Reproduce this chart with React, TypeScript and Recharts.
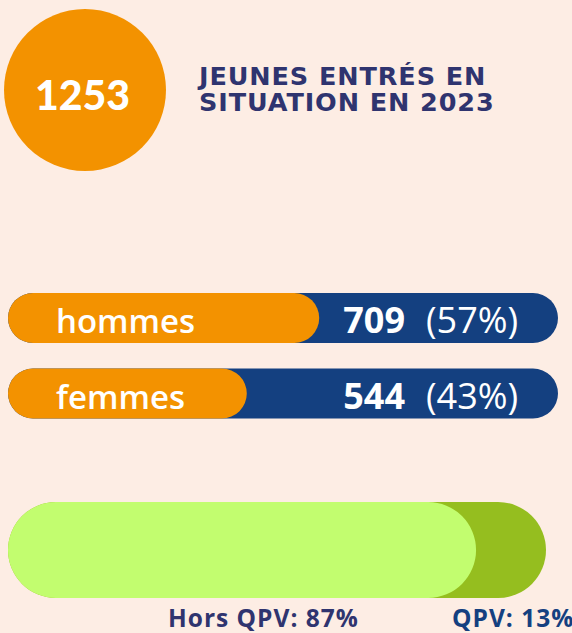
import { BarChart, Bar, XAxis, YAxis, LabelList } from 'recharts';

const genres = ['hommes', 'femmes'];
const effectifs = [709, 544];
const pourcentages = [57, 43];
const TOTAL = 1253;

const zones = ['Hors QPV', 'QPV'];
const partsQpv = [87, 13];

const titre = ['JEUNES ENTRÉS EN', 'SITUATION EN 2023'];

const BG = '#fdede4';
const ORANGE = '#f39200';
const NAVY = '#144080';
const INK = '#2f346f';

const genreData = genres.map((g, i) => ({
  name: g,
  value: effectifs[i],
  pct: pourcentages[i],
  total: TOTAL,
}));

const qpvData = [{ name: 'QPV', hors: partsQpv[0], total: partsQpv[0] + partsQpv[1] }];

function GenreLabel(props: any) {
  const { x, y, height, index } = props;
  const row = genreData[index];
  const cy = y + height / 2;
  const end = 558;
  return (
    <g style={{ fontFamily: '"Open Sans", sans-serif' }}>
      <text x={x + 48} y={cy} dy={15} fill="#fff" fontSize={33} fontWeight={600}>
        {row.name}
      </text>
      <text x={end - 153} y={cy} dy={15} fill="#fff" textAnchor="end" fontSize={36} fontWeight={700}>
        {row.value}
      </text>
      <text x={end - 132} y={cy} dy={15} fill="#fff" textAnchor="start" fontSize={36} fontWeight={400}>
        {'(' + row.pct + '%)'}
      </text>
    </g>
  );
}

const titleStyle = {
  position: 'absolute' as const,
  left: 199,
  color: INK,
  fontFamily: '"DejaVu Sans", sans-serif',
  fontWeight: 700,
  fontSize: 25.5,
  lineHeight: 1,
  letterSpacing: 0.9,
  whiteSpace: 'nowrap' as const,
};

const footStyle = {
  position: 'absolute' as const,
  top: 606,
  fontFamily: '"Open Sans", sans-serif',
  fontWeight: 700,
  fontSize: 24.5,
  lineHeight: 1,
  letterSpacing: 1,
  whiteSpace: 'nowrap' as const,
};

export default function App() {
  document.body.style.margin = '0';
  return (
    <div style={{ position: 'relative', width: 572, height: 633, background: BG, overflow: 'hidden' }}>
      <div
        style={{
          position: 'absolute', left: 4, top: 9, width: 162, height: 162, borderRadius: '50%',
          background: ORANGE, display: 'flex', alignItems: 'center', justifyContent: 'center',
          color: '#fff', fontFamily: 'Lato, sans-serif', fontWeight: 900, fontSize: 41,
          paddingTop: 8, paddingRight: 5, boxSizing: 'border-box',
        }}
      >
        1253
      </div>
      <div style={{ ...titleStyle, top: 64 }}>{titre[0]}</div>
      <div style={{ ...titleStyle, top: 90 }}>{titre[1]}</div>

      <div style={{ position: 'absolute', left: 0, top: 280 }}>
        <BarChart
          width={572}
          height={151}
          data={genreData}
          layout="vertical"
          margin={{ top: 0, right: 14, bottom: 0, left: 8 }}
          barGap={-50}
          barCategoryGap={0}
        >
          <XAxis type="number" domain={[0, TOTAL]} hide />
          <YAxis type="category" dataKey="name" hide />
          <Bar dataKey="total" fill={NAVY} barSize={50} radius={25} isAnimationActive={false} />
          <Bar dataKey="value" fill={ORANGE} barSize={50} radius={25} isAnimationActive={false}>
            <LabelList dataKey="value" content={GenreLabel} />
          </Bar>
        </BarChart>
      </div>

      <div style={{ position: 'absolute', left: 0, top: 490 }}>
        <BarChart
          width={572}
          height={120}
          data={qpvData}
          layout="vertical"
          margin={{ top: 0, right: 26, bottom: 0, left: 8 }}
          barGap={-96}
          barCategoryGap={0}
        >
          <XAxis type="number" domain={[0, 100]} hide />
          <YAxis type="category" dataKey="name" hide />
          <Bar dataKey="total" fill="#95be1f" barSize={96} radius={48} isAnimationActive={false} />
          <Bar dataKey="hors" fill="#c2fd6f" barSize={96} radius={48} isAnimationActive={false} />
        </BarChart>
      </div>

      <div style={{ ...footStyle, left: 168, color: INK }}>
        {zones[0]}: {partsQpv[0]}%
      </div>
      <div style={{ ...footStyle, left: 452, color: NAVY }}>
        {zones[1]}: {partsQpv[1]}%
      </div>
    </div>
  );
}
